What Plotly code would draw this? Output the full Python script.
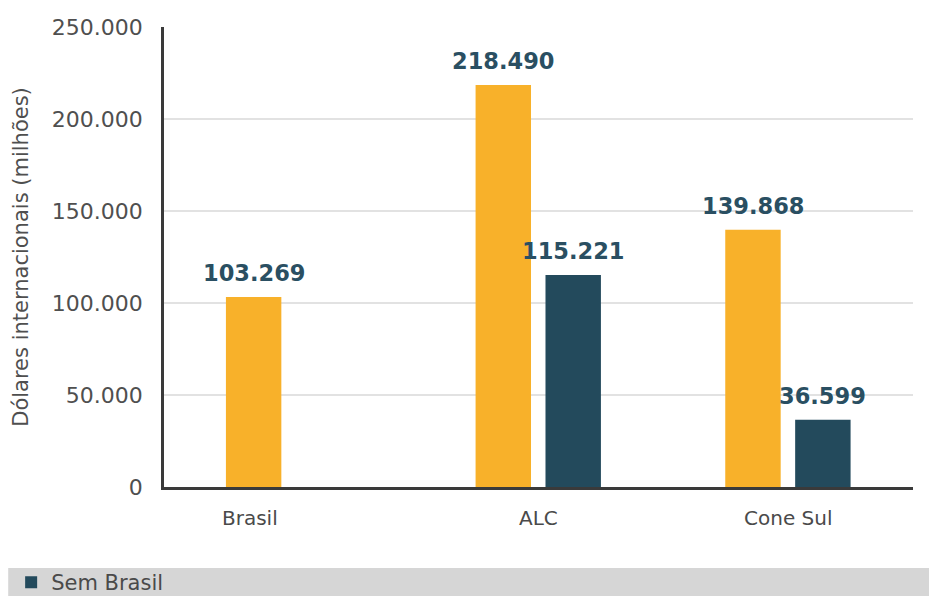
import plotly.graph_objects as go

# Categories and series values (millions of international dollars)
categories = ["Brasil", "ALC", "Cone Sul"]
total_values = [103269, 218490, 139868]
sem_brasil_cats = ["ALC", "Cone Sul"]
sem_brasil_values = [115221, 36599]
y_ticks = [0, 50000, 100000, 150000, 200000, 250000]
y_tick_text = ["0", "50.000", "100.000", "150.000", "200.000", "250.000"]

ORANGE = "#f8b12a"
TEAL = "#234a5c"
LABEL_COLOR = "#2a4f62"
TEXT_GRAY = "#4a4a4a"

# bar geometry in category units
BAR_W = 0.222
OFF_TOTAL = -0.252
OFF_SEM = 0.028


def fmt(v):
    return f"{v:,}".replace(",", ".")


fig = go.Figure()
fig.add_trace(go.Bar(
    x=categories, y=total_values, name="Total",
    marker=dict(color=ORANGE, line=dict(width=0)),
    width=BAR_W, offset=OFF_TOTAL, showlegend=False,
))
fig.add_trace(go.Bar(
    x=sem_brasil_cats, y=sem_brasil_values, name="Sem Brasil",
    marker=dict(color=TEAL, line=dict(width=0)),
    width=BAR_W, offset=OFF_SEM,
))

label_font = dict(family="DejaVu Sans", size=22.5, color=LABEL_COLOR)
annotations = []
# value labels above each bar
for cat, v in zip(categories, total_values):
    i = categories.index(cat)
    annotations.append(dict(
        x=i + OFF_TOTAL + BAR_W / 2, y=v, xref="x", yref="y",
        text=f"<b>{fmt(v)}</b>", showarrow=False, yanchor="bottom",
        yshift=9, font=label_font,
    ))
for cat, v in zip(sem_brasil_cats, sem_brasil_values):
    i = categories.index(cat)
    annotations.append(dict(
        x=i + OFF_SEM + BAR_W / 2, y=v, xref="x", yref="y",
        text=f"<b>{fmt(v)}</b>", showarrow=False, yanchor="bottom",
        yshift=9, font=label_font,
    ))
# category labels under the axis; a lone bar gets its label centred beneath it
for i, cat in enumerate(categories):
    xpos = i + OFF_TOTAL + BAR_W / 2 - 0.015 if cat not in sem_brasil_cats else i
    annotations.append(dict(
        x=xpos, y=0, xref="x", yref="y", text=cat, showarrow=False,
        yanchor="top", yshift=-17,
        font=dict(family="DejaVu Sans", size=20, color=TEXT_GRAY),
    ))

fig.update_layout(
    width=929, height=596,
    margin=dict(l=164, r=16, t=27, b=109),
    paper_bgcolor="white", plot_bgcolor="white",
    barmode="overlay",
    annotations=annotations,
    showlegend=True,
    legend=dict(
        orientation="h", xref="container", yref="container",
        x=0.012, y=0.057, xanchor="left", yanchor="top",
        bgcolor="rgba(0,0,0,0)",
        font=dict(family="DejaVu Sans", size=21, color=TEXT_GRAY),
    ),
    shapes=[dict(
        type="rect", xref="paper", yref="paper",
        x0=-0.208, x1=1.03, y0=-0.176, y1=-0.3,
        fillcolor="#d6d6d6", line=dict(width=0), layer="below",
    )],
)

fig.update_xaxes(
    showticklabels=False, showgrid=False, zeroline=False,
    showline=True, linecolor="#3a3a3a", linewidth=2.5,
    range=[-0.5, 2.5],
)
fig.update_yaxes(
    range=[0, 250000], tickvals=y_ticks, ticktext=y_tick_text,
    showgrid=True, gridcolor="#e2e2e2", gridwidth=2,
    zeroline=False, showline=True, linecolor="#3a3a3a", linewidth=2.5,
    ticks="", ticklabelstandoff=14,
    tickfont=dict(family="DejaVu Sans", size=22, color="#4f4f4f"),
    title=dict(text="Dólares internacionais (milhões)", standoff=18,
               font=dict(family="DejaVu Sans", size=21, color="#4f4f4f")),
)

fig.write_html("out.html")
